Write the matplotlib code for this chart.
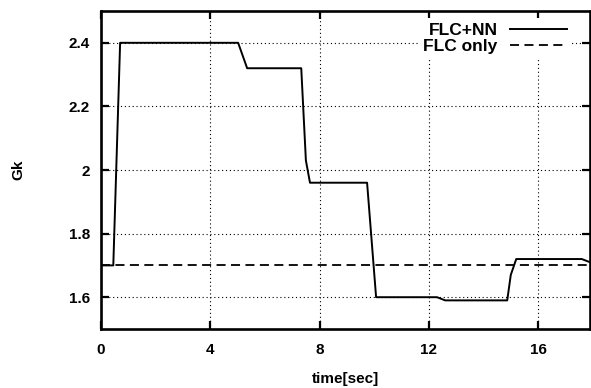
import matplotlib
matplotlib.use("Agg")
import matplotlib.pyplot as plt

plt.rcParams['font.family'] = ['Liberation Sans', 'DejaVu Sans']
plt.rcParams['font.weight'] = 'bold'

# FLC+NN gain trajectory (time in sec, Gk)
t_nn = [0.0, 0.45, 0.70, 5.02, 5.35, 7.33, 7.50, 7.65, 9.74, 10.07,
        12.30, 12.60, 14.87, 15.00, 15.20, 17.60, 17.90]
gk_nn = [1.70, 1.70, 2.40, 2.40, 2.32, 2.32, 2.03, 1.96, 1.96, 1.60,
         1.60, 1.59, 1.59, 1.67, 1.72, 1.72, 1.71]

# FLC only: constant gain
t_flc = [0.0, 17.9]
gk_flc = [1.70, 1.70]

xticks = [0, 4, 8, 12, 16]
yticks = [1.6, 1.8, 2.0, 2.2, 2.4]
yticklabels = ['1.6', '1.8', '2', '2.2', '2.4']

fig = plt.figure(figsize=(5.91, 3.88), dpi=100)
ax = fig.add_axes([101 / 591, 1 - 329 / 388, 489 / 591, 318 / 388])

ax.plot(t_nn, gk_nn, color='black', linewidth=1.4, label='FLC+NN')
ax.plot(t_flc, gk_flc, color='black', linewidth=1.3, linestyle=(0, (5, 3)), label='FLC only')

ax.set_xlim(0, 17.9)
ax.set_ylim(1.5, 2.5)
ax.set_xticks(xticks)
ax.set_yticks(yticks)
ax.set_yticklabels(yticklabels)
ax.grid(True, color='black', linestyle=(0, (1, 2.5)), linewidth=0.8)
ax.tick_params(direction='in', length=6, width=1.6, top=True, right=True,
               labelsize=11)
ax.tick_params(axis='x', pad=10)
ax.tick_params(axis='y', pad=8)
for s in ax.spines.values():
    s.set_linewidth(1.9)

ax.set_xlabel('time[sec]', fontsize=11, fontweight='bold', labelpad=11)
ax.set_ylabel('Gk', fontsize=11, fontweight='bold', labelpad=31)

leg = ax.legend(loc='upper right', bbox_to_anchor=(0.978, 1.0),
                markerfirst=False, frameon=True,
                prop={'size': 12.5, 'weight': 'bold'},
                handlelength=3.3, handletextpad=0.7, borderaxespad=0.4,
                borderpad=0.3, labelspacing=0.05, fancybox=False)
leg.get_frame().set_edgecolor('none')
leg.get_frame().set_facecolor('white')
leg.get_frame().set_alpha(1)
for txt in leg.get_texts():
    txt.set_ha('right')

fig.savefig('out.png', dpi=100)
